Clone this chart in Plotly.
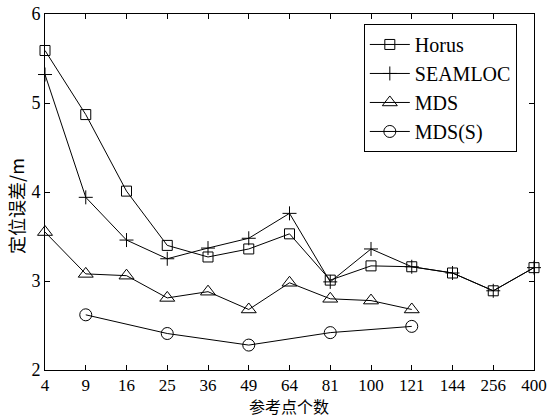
import plotly.graph_objects as go

categories = ["4", "9", "16", "25", "36", "49", "64", "81", "100", "121", "144", "256", "400"]
horus = [5.59, 4.87, 4.01, 3.40, 3.27, 3.36, 3.53, 3.01, 3.17, 3.16, 3.09, 2.89, 3.15]
seamloc = [5.32, 3.94, 3.46, 3.25, 3.37, 3.48, 3.76, 2.99, 3.36, 3.16, 3.09, 2.89, 3.15]
mds_cats = categories[:10]
mds = [3.55, 3.08, 3.06, 2.81, 2.88, 2.68, 2.98, 2.80, 2.78, 2.68]
mdss_cats = ["9", "25", "49", "81", "121"]
mdss = [2.62, 2.41, 2.28, 2.42, 2.49]

serif = "Liberation Serif, Times New Roman, serif"
cjk = "Noto Sans CJK SC"

fig = go.Figure()
line = dict(color="black", width=1)
fig.add_trace(go.Scatter(x=categories, y=horus, name="Horus", mode="lines+markers",
                         line=line, cliponaxis=False,
                         marker=dict(symbol="square-open", size=10, color="black", line=dict(width=1))))
fig.add_trace(go.Scatter(x=categories, y=seamloc, name="SEAMLOC", mode="lines+markers",
                         line=line, cliponaxis=False,
                         marker=dict(symbol="cross-thin-open", size=10, color="black", line=dict(width=1, color="black"))))
fig.add_trace(go.Scatter(x=mds_cats, y=mds, name="MDS", mode="lines+markers",
                         line=line, cliponaxis=False,
                         marker=dict(symbol="triangle-up-open", size=13, color="black", line=dict(width=1))))
fig.add_trace(go.Scatter(x=mdss_cats, y=mdss, name="MDS(S)", mode="lines+markers",
                         line=line, cliponaxis=False,
                         marker=dict(symbol="circle-open", size=12, color="black", line=dict(width=1))))

fig.update_layout(
    width=551, height=417,
    margin=dict(l=45, r=17, t=14, b=47, autoexpand=False),
    paper_bgcolor="white", plot_bgcolor="white",
    font=dict(family=serif, size=17, color="black"),
    showlegend=True,
    legend=dict(x=0.652, y=0.972, xanchor="left", yanchor="top",
                bordercolor="black", borderwidth=1, bgcolor="white",
                font=dict(family=serif, size=20), itemwidth=40,
                tracegroupgap=0),
    annotations=[
        dict(text="参考点个数", xref="paper", yref="paper", x=0.499, y=-0.1011,
             xanchor="center", yanchor="middle", showarrow=False, borderpad=0,
             font=dict(family=cjk, size=16)),
        dict(text="定位误差/m", xref="paper", yref="paper", x=-0.0593, y=0.461,
             xanchor="center", yanchor="middle", showarrow=False, textangle=-90,
             font=dict(family=cjk, size=18)),
    ],
)
fig.update_xaxes(type="category", categoryorder="array", categoryarray=categories,
                 range=[0, 12], showline=True, linecolor="black", linewidth=1, mirror="ticks",
                 ticks="inside", ticklen=5, tickcolor="black", showgrid=False, zeroline=False,
                 automargin=False, ticklabeloverflow="allow", ticklabelstandoff=0,
                 tickfont=dict(family=serif, size=17))
fig.update_yaxes(range=[2, 6], dtick=1, showline=True, linecolor="black", linewidth=1, mirror="ticks",
                 ticks="inside", ticklen=5, tickcolor="black", showgrid=False, zeroline=False,
                 automargin=False, ticklabeloverflow="allow",
                 tickfont=dict(family=serif, size=18))

fig.write_html("out.html", config={"displayModeBar": False},
               post_script="document.body.style.margin='0';document.body.style.overflow='hidden';")
